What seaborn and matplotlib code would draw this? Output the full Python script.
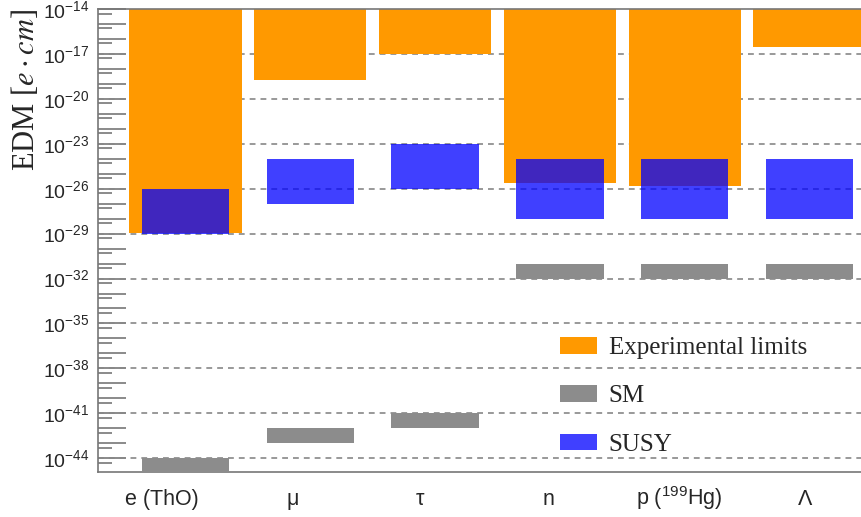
import matplotlib
matplotlib.use('Agg')
import matplotlib.pyplot as plt
import matplotlib.ticker as mticker
from matplotlib.transforms import ScaledTranslation
import numpy as np
import seaborn as sns

# EDM limits and predictions [e cm]
categories = ['e (ThO)', 'μ', 'τ', 'n', 'p ($^{199}$Hg)', 'Λ']
exp_limit = [1.1e-29, 1.8e-19, 1.0e-17, 2.5e-26, 1.5e-26, 3.0e-17]
exp_top = 1e-14
susy_high = [1e-26, 1e-24, 1e-23, 1e-24, 1e-24, 1e-24]
susy_low = [1e-29, 1e-27, 1e-26, 1e-28, 1e-28, 1e-28]
sm_high = [1e-44, 1e-42, 1e-41, 1e-31, 1e-31, 1e-31]
sm_low = [1e-45, 1e-43, 1e-42, 1e-32, 1e-32, 1e-32]

sns.set_style('ticks')
plt.rcParams['font.family'] = ['Liberation Sans', 'DejaVu Sans']
plt.rcParams['mathtext.fontset'] = 'custom'
plt.rcParams['mathtext.rm'] = 'Liberation Sans'
plt.rcParams['mathtext.it'] = 'Liberation Sans:italic'
plt.rcParams['mathtext.default'] = 'regular'

fig = plt.figure(figsize=(8.62, 5.17), dpi=100)
ax = fig.add_axes([98 / 862, 45 / 517, 1 - 98 / 862, (472 - 9) / 517])
ax.set_yscale('log')

x = np.arange(len(categories))
exp_limit = np.array(exp_limit)
ax.bar(x, exp_top - exp_limit, bottom=exp_limit, width=0.9, linewidth=0,
       color='#ff9900', label='Experimental limits', zorder=2)
ax.bar(x, np.array(sm_high) - np.array(sm_low), bottom=sm_low, width=0.7, linewidth=0,
       color='#8c8c8c', label='SM', zorder=3)
ax.bar(x, np.array(susy_high) - np.array(susy_low), bottom=susy_low, width=0.7, linewidth=0,
       color='#0000ff', alpha=0.75, label='SUSY', zorder=4)

ax.set_xlim(-0.70, 5.42)
ax.set_ylim(10 ** -44.92, exp_top)

# y ticks: long every decade, short at 5x, labels every 3 decades
decades = np.arange(-44, -13)
ax.yaxis.set_major_locator(mticker.FixedLocator(10.0 ** decades))
ax.yaxis.set_minor_locator(mticker.FixedLocator(5 * 10.0 ** np.arange(-45, -14)))
ax.yaxis.set_major_formatter(mticker.FuncFormatter(
    lambda v, p: '$10^{%d}$' % round(np.log10(v)) if (round(np.log10(v)) + 14) % 3 == 0 else ''))
ax.yaxis.set_minor_formatter(mticker.NullFormatter())
ax.tick_params(axis='y', which='major', direction='in', length=20, width=1.2,
               color='#777777', labelsize=14, pad=6)
ax.tick_params(axis='y', which='minor', direction='in', length=10, width=1.2,
               color='#777777')

for k in decades[(decades + 14) % 3 == 0]:
    if k < -14:
        ax.axhline(10.0 ** k, color='#888888', lw=1.2, ls=(0, (3.5, 3)), zorder=1)

# x ticks: labels at each category, marks only at a few
ax.set_xticks(x)
ax.set_xticklabels(categories, va='baseline')
ax.tick_params(axis='x', which='major', length=0, labelsize=15.5, pad=24)
ax.xaxis.set_minor_locator(mticker.FixedLocator([1, 3, 5]))
ax.tick_params(axis='x', which='minor', direction='in', length=11, width=1.2,
               color='#555555')
shifts = [-24, -18, -15, -11, -6, -4]
for lab, dx in zip(ax.get_xticklabels(), shifts):
    lab.set_transform(lab.get_transform() + ScaledTranslation(dx / 100, 0, fig.dpi_scale_trans))

for s in ['left', 'top', 'bottom']:
    ax.spines[s].set_color('#777777')
    ax.spines[s].set_linewidth(1.2)
ax.spines['right'].set_visible(False)

ax.set_ylabel(r'EDM $[\mathit{e} \cdot \mathit{cm}]$', loc='top', fontsize=22,
              family='Liberation Serif', math_fontfamily='stix')
ax.yaxis.set_label_coords(-0.075, 1.0)

ax.legend(loc='upper left', bbox_to_anchor=(560 / 862, 1 - 337 / 517),
          bbox_transform=fig.transFigure, frameon=False, borderpad=0,
          borderaxespad=0, prop={'family': 'Liberation Serif', 'size': 18},
          handlelength=1.5, handleheight=0.64, labelspacing=1.05, handletextpad=0.45)

fig.savefig('out.png', dpi=100)
